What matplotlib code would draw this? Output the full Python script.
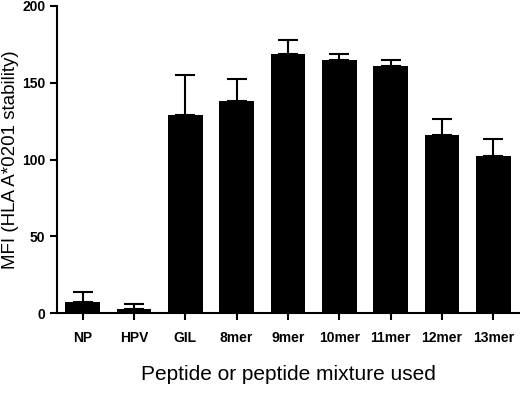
import matplotlib
matplotlib.use("Agg")
import matplotlib.pyplot as plt
import numpy as np

plt.rcParams['font.family'] = ['Liberation Sans', 'DejaVu Sans']

# data
categorias = ['NP', 'HPV', 'GIL', '8mer', '9mer', '10mer', '11mer', '12mer', '13mer']
medias = [7.6, 2.6, 129, 138, 168.6, 164.7, 160.8, 115.8, 102.3]
erros = [6.3, 3.4, 26, 14.5, 9.4, 3.9, 3.9, 10.7, 11.3]

fig = plt.figure(figsize=(5.2, 3.94), dpi=100)
ax = fig.add_axes([57 / 520, 1 - 313.3 / 394, 462 / 520, 307.3 / 394])

x = np.arange(len(categorias))
ax.errorbar(x, medias, yerr=[np.zeros(len(erros)), erros], fmt='none',
            ecolor='black', elinewidth=1.5, capsize=7, capthick=1.5, zorder=1)
ax.bar(x, medias, width=0.68, color='black', linewidth=0, zorder=2)

ax.set_xlim(-0.5, 8.5)
ax.set_ylim(0, 200)
ax.set_yticks([0, 50, 100, 150, 200])
ax.set_xticks(x)
ax.set_xticklabels(categorias, fontweight='bold')
for lab in ax.get_yticklabels():
    lab.set_fontweight('bold')

ax.spines['top'].set_visible(False)
ax.spines['right'].set_visible(False)
ax.spines['left'].set_linewidth(1.5)
ax.spines['bottom'].set_linewidth(1.5)
ax.tick_params(axis='both', direction='out', length=5, width=1.5, labelsize=10)
ax.tick_params(axis='x', pad=8)

ax.set_ylabel('MFI (HLA A*0201 stability)', fontsize=13.5)
ax.yaxis.set_label_coords(-0.082, 0.5)
ax.set_xlabel('Peptide or peptide mixture used', fontsize=15, labelpad=14)

fig.savefig('out.png', dpi=100)
